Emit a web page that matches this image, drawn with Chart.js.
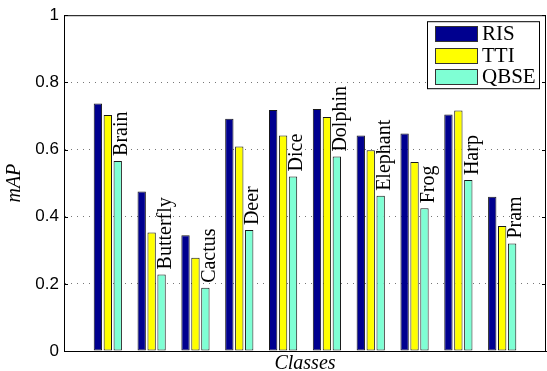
<!DOCTYPE html>
<html><head><meta charset="utf-8">
<script src="https://cdn.jsdelivr.net/npm/chart.js@4"></script>
<style>html,body{margin:0;padding:0;background:#fff;overflow:hidden;}</style>
</head><body>
<canvas id="c" width="547" height="371" style="display:block;width:547px;height:371px"></canvas>
<script>
const categories = ['Brain','Butterfly','Cactus','Deer','Dice','Dolphin','Elephant','Frog','Harp','Pram'];
const risValues  = [0.737,0.475,0.345,0.692,0.718,0.721,0.642,0.648,0.704,0.459];
const ttiValues  = [0.703,0.353,0.278,0.609,0.642,0.697,0.598,0.563,0.716,0.372];
const qbseValues = [0.566,0.228,0.188,0.360,0.520,0.579,0.462,0.425,0.509,0.320];
const seriesNames = ['RIS','TTI','QBSE'];
const seriesColors = ['#00008F','#FFFF00','#7FFFD4'];
const yTicks = [0,0.2,0.4,0.6,0.8,1];
const yTickLabels = ['0','0.2','0.4','0.6','0.8','1'];

const pad = a => [null, ...a, null];
const labels = ['', ...categories, ''];

const decor = {
  id: 'decor',
  afterDatasetsDraw(chart) {
    const ctx = chart.ctx;
    const meta = chart.getDatasetMeta(2);
    ctx.save();
    ctx.font = '20px "Liberation Serif"';
    ctx.fillStyle = '#000';
    ctx.textAlign = 'left';
    ctx.textBaseline = 'middle';
    categories.forEach((name, i) => {
      const el = meta.data[i + 1];
      ctx.save();
      ctx.translate(el.x + 4, el.y - 5);
      ctx.rotate(-Math.PI / 2);
      ctx.fillText(name, 0, 0);
      ctx.restore();
    });
    ctx.restore();
  },
  afterDraw(chart) {
    const ctx = chart.ctx;
    const a = chart.chartArea;
    const ys = chart.scales.y;
    ctx.save();
    ctx.strokeStyle = '#000';
    ctx.lineWidth = 1;
    ctx.beginPath();
    ctx.moveTo(a.left, a.top + 0.5); ctx.lineTo(a.right, a.top + 0.5);
    ctx.moveTo(a.right - 0.5, a.top); ctx.lineTo(a.right - 0.5, a.bottom);
    ys.ticks.forEach(t => {
      const y = Math.round(ys.getPixelForValue(t.value)) + 0.5;
      ctx.moveTo(a.left, y); ctx.lineTo(a.left + 4, y);
      ctx.moveTo(a.right, y); ctx.lineTo(a.right - 4, y);
    });
    ctx.stroke();
    // legend
    const bw = 112, bh = 67;
    const bx = a.right - 7 - bw, by = a.top + 6;
    ctx.fillStyle = '#fff';
    ctx.fillRect(bx, by, bw, bh);
    ctx.strokeRect(bx + 0.5, by + 0.5, bw, bh);
    ctx.font = '21px "Liberation Serif"';
    ctx.textAlign = 'left';
    ctx.textBaseline = 'middle';
    chart.data.datasets.forEach((ds, i) => {
      const cy = by + 12.5 + i * 21.3;
      ctx.fillStyle = ds.backgroundColor;
      ctx.fillRect(bx + 8, Math.round(cy - 7.5), 42, 15);
      ctx.strokeStyle = '#333';
      ctx.strokeRect(bx + 8.5, Math.round(cy - 7.5) + 0.5, 42, 15);
      ctx.fillStyle = '#000';
      ctx.fillText(ds.label, bx + 55, cy + 1);
    });
    ctx.restore();
  }
};

const ds = (i, vals) => ({
  label: seriesNames[i],
  data: pad(vals),
  backgroundColor: seriesColors[i],
  borderColor: '#1a1a1a',
  borderWidth: 1,
  borderSkipped: false,
  categoryPercentage: 0.68,
  barPercentage: 0.84
});

new Chart(document.getElementById('c'), {
  type: 'bar',
  data: { labels, datasets: [ds(0, risValues), ds(1, ttiValues), ds(2, qbseValues)] },
  options: {
    responsive: false,
    animation: false,
    devicePixelRatio: 1,
    layout: { padding: { top: 10, right: 1, left: 0, bottom: 0 } },
    plugins: { legend: { display: false }, tooltip: { enabled: false } },
    scales: {
      x: {
        type: 'category',
        offset: false,
        grid: { display: false },
        ticks: { display: false },
        border: { display: true, color: '#000', width: 1 },
        title: { display: true, text: 'Classes', color: '#000',
          font: { family: 'Liberation Serif', size: 20, style: 'italic', lineHeight: 1 },
          padding: { top: 0, bottom: -3 } },
        afterFit: s => { s.height = 20; }
      },
      y: {
        min: 0, max: 1,
        afterBuildTicks: s => { s.ticks = yTicks.map(v => ({ value: v })); },
        ticks: { color: '#000', padding: 5, font: { family: 'Liberation Sans', size: 17 },
          callback: (v, i) => yTickLabels[i] },
        grid: { drawTicks: false, lineWidth: 1,
          color: c => (c.tick && (c.tick.value === 0 || c.tick.value === 1)) ? 'rgba(0,0,0,0)' : '#777' },
        border: { display: true, color: '#000', width: 1, dash: [1, 5] },
        title: { display: true, text: 'mAP', color: '#000',
          font: { family: 'Liberation Serif', size: 20, style: 'italic', lineHeight: 1.2 },
          padding: { top: 3, bottom: 0 } },
        afterFit: s => { s.width = 64; }
      }
    }
  },
  plugins: [decor]
});
</script>
</body></html>
